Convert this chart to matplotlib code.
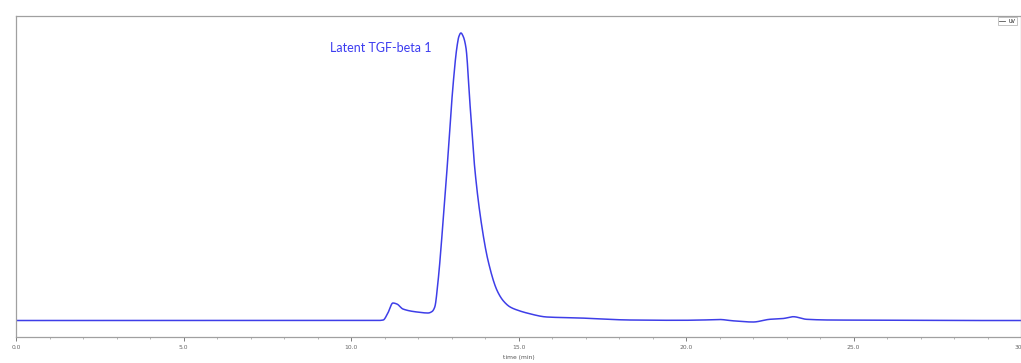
import numpy as np
import matplotlib.pyplot as plt

# UV trace (time in min, signal in arbitrary units)
time_min = [0.0, 5.0, 10.0, 10.8, 10.96, 11.1, 11.25, 11.37, 11.55, 11.97, 12.3, 12.42,
            12.5, 12.6, 12.75, 12.9, 13.04, 13.16, 13.22, 13.28, 13.35, 13.43, 13.55, 13.7,
            13.91, 14.09, 14.36, 14.55, 14.75, 15.0, 15.25, 15.85, 16.84, 18.33, 19.8,
            20.5, 21.0, 21.4, 22.0, 22.5, 22.9, 23.2, 23.6, 24.3, 26.0, 28.0, 30.0]
uv_signal = [0.0, 0.0, 0.0, 0.0, 0.5, 7.5, 17.5, 16.5, 11.5, 8.5, 7.5, 9.0,
             13.5, 40.0, 100.0, 167.0, 233.0, 273.0, 284.0, 287.5, 284.0, 273.0, 217.0, 150.0,
             93.0, 60.0, 30.0, 19.5, 13.5, 10.0, 7.5, 3.5, 2.5, 0.5, 0.2,
             0.5, 1.0, -0.3, -1.5, 1.2, 2.0, 3.8, 1.2, 0.5, 0.3, 0.0, 0.0]

major_ticks = [0.0, 5.0, 10.0, 15.0, 20.0, 25.0, 30.0]
tick_labels = ["0.0", "5.0", "10.0", "15.0", "20.0", "25.0", "30.0"]


def pchip(x, y, xs):
    # monotone cubic interpolation, keeps the trace smooth without overshoot
    x = np.asarray(x, float)
    y = np.asarray(y, float)
    h = np.diff(x)
    d = np.diff(y) / h
    m = np.zeros_like(y)
    for i in range(1, len(y) - 1):
        if d[i - 1] * d[i] > 0:
            w1 = 2 * h[i] + h[i - 1]
            w2 = h[i] + 2 * h[i - 1]
            m[i] = (w1 + w2) / (w1 / d[i - 1] + w2 / d[i])
    m[0], m[-1] = d[0], d[-1]
    idx = np.clip(np.searchsorted(x, xs) - 1, 0, len(h) - 1)
    t = (xs - x[idx]) / h[idx]
    h00 = 2 * t**3 - 3 * t**2 + 1
    h10 = t**3 - 2 * t**2 + t
    h01 = -2 * t**3 + 3 * t**2
    h11 = t**3 - t**2
    return (h00 * y[idx] + h10 * h[idx] * m[idx] + h01 * y[idx + 1]
            + h11 * h[idx] * m[idx + 1])


fig = plt.figure(figsize=(10.21, 3.63), dpi=100)
ax = fig.add_axes([0.0157, 0.0716, 0.9843, 0.8844])

xs = np.linspace(0, 30, 4000)
ys = pchip(time_min, uv_signal, xs)

ax.plot(xs, ys, color='#3e3ee8', lw=1.1, label='UV')
ax.text(10.9, 272, 'Latent TGF-beta 1', color='#3c3cf0', fontsize=9,
        family=['Lato', 'DejaVu Sans'], ha='center', va='center')

ax.set_xlim(0, 30)
ax.set_ylim(-16.5, 304.5)
ax.set_yticks([])
ax.set_xticks(major_ticks)
ax.set_xticklabels(tick_labels)
ax.set_xticks(np.arange(0, 31, 1), minor=True)
ax.tick_params(axis='x', which='major', labelsize=4.3, colors='#666666', length=3, width=0.6, pad=3)
ax.tick_params(axis='x', which='minor', colors='#999999', length=1.5, width=0.5)
ax.set_xlabel('time (min)', fontsize=4.3, color='#555555', labelpad=3)
for side in ['top', 'left', 'bottom', 'right']:
    ax.spines[side].set_color('#a0a0a0')
    ax.spines[side].set_linewidth(0.9)

leg = ax.legend(loc='upper right', fontsize=3.5, handlelength=1.2, borderpad=0.3,
                frameon=True, fancybox=False, bbox_to_anchor=(0.9985, 1.003))
leg.get_frame().set_edgecolor('#999999')
leg.get_frame().set_linewidth(0.5)
for line in leg.get_lines():
    line.set_color('#555555')
    line.set_linewidth(0.6)

fig.savefig('out.png', dpi=100)
